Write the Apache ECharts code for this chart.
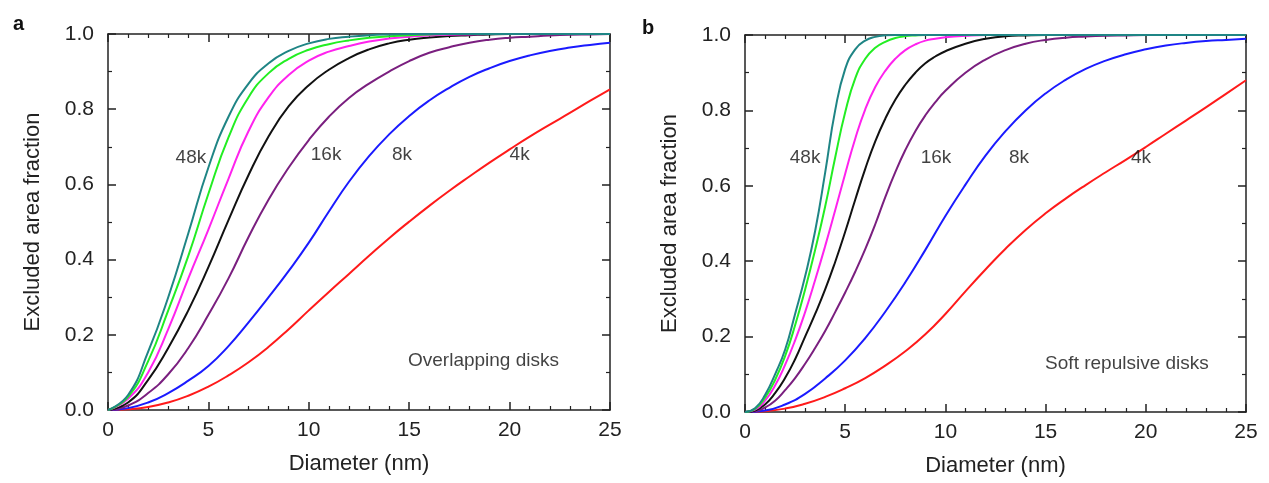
<!DOCTYPE html>
<html>
<head>
<meta charset="utf-8">
<script src="https://cdn.jsdelivr.net/npm/echarts@6/dist/echarts.min.js"></script>
<style>
  html, body { margin: 0; padding: 0; background: #fff; }
  #chart { width: 1269px; height: 483px; }
</style>
</head>
<body>
<div id="chart"></div>
<script>
// diameter grids (nm): whole nm, and half-nm up to 10 for the steep curves
var DIAM_INT  = [0,1,2,3,4,5,6,7,8,9,10,11,12,13,14,15,16,17,18,19,20,21,22,23,24,25]
var DIAM_HALF = [0,0.5,1,1.5,2,2.5,3,3.5,4,4.5,5,5.5,6,6.5,7,7.5,8,8.5,9,9.5,10,11,12,13,14,15,16,17,18,19,20,21,22,23,24,25]

var SERIES_NAMES = ['4k', '8k', '16k', '24k', '32k', '40k', '48k']

// panel a - overlapping disks (on DIAM_INT)
var A_4K  = [0,0.002,0.008,0.02,0.038,0.062,0.092,0.127,0.168,0.215,0.265,0.314,0.362,0.41,0.457,0.501,0.543,0.583,0.621,0.658,0.693,0.727,0.759,0.79,0.822,0.853]
var A_8K  = [0,0.005,0.02,0.045,0.078,0.117,0.17,0.233,0.3,0.37,0.445,0.528,0.607,0.675,0.733,0.782,0.823,0.857,0.886,0.909,0.928,0.943,0.955,0.964,0.971,0.977]
var A_16K = [0,0.012,0.045,0.095,0.165,0.253,0.35,0.46,0.56,0.645,0.718,0.78,0.83,0.868,0.9,0.928,0.95,0.965,0.977,0.985,0.99,0.993,0.996,0.998,0.999,1]
var A_24K = [0,0.02,0.08,0.165,0.265,0.38,0.505,0.625,0.728,0.808,0.864,0.905,0.936,0.959,0.975,0.985,0.991,0.995,0.997,0.999,1,1,1,1,1,1]
var A_32K = [0,0.03,0.1,0.215,0.35,0.48,0.615,0.742,0.832,0.891,0.929,0.953,0.968,0.98,0.988,0.993,0.996,0.998,0.999,1,1,1,1,1,1,1]
var A_40K = [0,0.035,0.13,0.265,0.41,0.575,0.725,0.832,0.896,0.934,0.958,0.973,0.983,0.99,0.994,0.997,0.999,1,1,1,1,1,1,1,1,1]
var A_48K = [0,0.04,0.155,0.3,0.47,0.645,0.78,0.868,0.922,0.955,0.975,0.987,0.993,0.997,0.999,1,1,1,1,1,1,1,1,1,1,1]

// panel b - soft repulsive disks (4k, 8k on DIAM_INT, the rest on DIAM_HALF)
var B_4K  = [0,0.002,0.009,0.022,0.04,0.063,0.09,0.123,0.161,0.206,0.26,0.32,0.378,0.433,0.483,0.527,0.566,0.602,0.636,0.669,0.703,0.738,0.773,0.808,0.844,0.88]
var B_8K  = [0,0.004,0.02,0.048,0.089,0.137,0.196,0.266,0.344,0.43,0.52,0.603,0.68,0.745,0.8,0.845,0.881,0.91,0.932,0.949,0.962,0.972,0.979,0.984,0.987,0.99]
var B_16K = [0,0.002,0.012,0.03,0.058,0.09,0.128,0.17,0.215,0.265,0.317,0.372,0.432,0.498,0.57,0.636,0.695,0.745,0.787,0.822,0.852,0.9,0.935,0.96,0.977,0.987,0.993,0.996,0.998,0.999,1,1,1,1,1,1]
var B_24K = [0,0.004,0.02,0.05,0.09,0.14,0.2,0.26,0.325,0.398,0.478,0.563,0.645,0.718,0.778,0.828,0.868,0.9,0.925,0.943,0.957,0.977,0.99,0.997,0.999,1,1,1,1,1,1,1,1,1,1,1]
var B_32K = [0,0.006,0.03,0.07,0.125,0.19,0.265,0.35,0.44,0.535,0.632,0.725,0.803,0.862,0.905,0.937,0.96,0.975,0.985,0.99,0.994,0.998,1,1,1,1,1,1,1,1,1,1,1,1,1,1]
var B_40K = [0,0.008,0.038,0.085,0.148,0.23,0.325,0.43,0.545,0.675,0.795,0.885,0.937,0.966,0.982,0.992,0.997,0.999,1,1,1,1,1,1,1,1,1,1,1,1,1,1,1,1,1,1]
var B_48K = [0,0.01,0.045,0.1,0.165,0.26,0.36,0.48,0.635,0.8,0.91,0.962,0.985,0.995,0.999,1,1,1,1,1,1,1,1,1,1,1,1,1,1,1,1,1,1,1,1,1]

// in-plot annotations [diameter, fraction, text]
var LABELS_A = [[4.13, 0.67, '48k'], [10.86, 0.678, '16k'], [14.64, 0.678, '8k'], [20.5, 0.678, '4k'], [18.7, 0.13, 'Overlapping disks']]
var LABELS_B = [[3.0, 0.674, '48k'], [9.53, 0.674, '16k'], [13.67, 0.674, '8k'], [19.76, 0.674, '4k'], [19.06, 0.128, 'Soft repulsive disks']]

var COLORS = ['#ff1a1a', '#1a1aff', '#7a1f7f', '#111111', '#ff22ee', '#22ee22', '#1f8585']
var FONT = "'Liberation Sans', Arial, Helvetica, sans-serif"

var myChart = echarts.init(document.getElementById('chart'))

function zip(xs, ys) {
    return xs.map(function (x, i) { return [x, ys[i]] })
}

function makeXAxis(gridIndex, pos) {
    var isBottom = pos === 'bottom'
    return {
        type: 'value', gridIndex: gridIndex, position: pos,
        min: 0, max: 25, interval: 5,
        name: isBottom ? 'Diameter (nm)' : '',
        nameLocation: 'middle', nameGap: 43,
        nameTextStyle: { fontSize: 22, color: '#222', fontFamily: FONT },
        axisLine: { onZero: false, lineStyle: { color: '#222', width: 1.5 } },
        axisTick: { inside: true, length: 8, lineStyle: { color: '#222', width: 1.5 } },
        minorTick: { show: true, splitNumber: 5, length: 4, lineStyle: { color: '#222', width: 1.2 } },
        axisLabel: { show: isBottom, fontSize: 21, color: '#222', margin: 10, fontFamily: FONT },
        splitLine: { show: false }
    }
}

function makeYAxis(gridIndex, pos) {
    var isLeft = pos === 'left'
    return {
        type: 'value', gridIndex: gridIndex, position: pos,
        min: 0, max: 1, interval: 0.2,
        name: isLeft ? 'Excluded area fraction' : '',
        nameLocation: 'middle', nameGap: 64,
        nameTextStyle: { fontSize: 22, color: '#222', fontFamily: FONT },
        axisLine: { onZero: false, lineStyle: { color: '#222', width: 1.5 } },
        axisTick: { inside: true, length: 8, lineStyle: { color: '#222', width: 1.5 } },
        minorTick: { show: true, splitNumber: 2, length: 4, lineStyle: { color: '#222', width: 1.2 } },
        axisLabel: {
            show: isLeft, fontSize: 21, color: '#222', margin: 14, fontFamily: FONT,
            formatter: function (v) { return v.toFixed(1) }
        },
        splitLine: { show: false }
    }
}

// xsList / ysList: one grid and one value array per curve
function curveSeries(xsList, ysList, axisIndex) {
    return ysList.map(function (ys, i) {
        return {
            type: 'line', name: SERIES_NAMES[i],
            xAxisIndex: axisIndex, yAxisIndex: axisIndex,
            data: zip(xsList[i], ys),
            smooth: 0.5, showSymbol: false, symbol: 'none',
            lineStyle: { color: COLORS[i], width: 2 },
            z: 2 + i
        }
    })
}

function labelSeries(labels, axisIndex) {
    return {
        type: 'scatter', xAxisIndex: axisIndex, yAxisIndex: axisIndex,
        symbolSize: 1, silent: true,
        itemStyle: { color: 'rgba(0,0,0,0)' },
        data: labels,
        label: {
            show: true, position: 'inside', fontSize: 19, color: '#111', fontFamily: FONT,
            textBorderWidth: 0,
            formatter: function (p) { return p.value[2] }
        },
        z: 20
    }
}

var gridsA = [DIAM_INT, DIAM_INT, DIAM_INT, DIAM_INT, DIAM_INT, DIAM_INT, DIAM_INT]
var gridsB = [DIAM_INT, DIAM_INT, DIAM_HALF, DIAM_HALF, DIAM_HALF, DIAM_HALF, DIAM_HALF]

var option = {
    animation: false,
    backgroundColor: '#fff',
    title: [
        { text: 'a', left: 8, top: 9, textStyle: { fontSize: 20, fontWeight: 'bold', color: '#111', fontFamily: FONT } },
        { text: 'b', left: 637, top: 13, textStyle: { fontSize: 20, fontWeight: 'bold', color: '#111', fontFamily: FONT } }
    ],
    grid: [
        { left: 108, top: 34, width: 502, height: 376 },
        { left: 745, top: 35, width: 501, height: 377 }
    ],
    xAxis: [makeXAxis(0, 'bottom'), makeXAxis(1, 'bottom'), makeXAxis(0, 'top'), makeXAxis(1, 'top')],
    yAxis: [makeYAxis(0, 'left'), makeYAxis(1, 'left'), makeYAxis(0, 'right'), makeYAxis(1, 'right')],
    series: []
        .concat(curveSeries(gridsA, [A_4K, A_8K, A_16K, A_24K, A_32K, A_40K, A_48K], 0))
        .concat(curveSeries(gridsB, [B_4K, B_8K, B_16K, B_24K, B_32K, B_40K, B_48K], 1))
        .concat([labelSeries(LABELS_A, 0), labelSeries(LABELS_B, 1)])
}

myChart.setOption(option)
</script>
</body>
</html>
